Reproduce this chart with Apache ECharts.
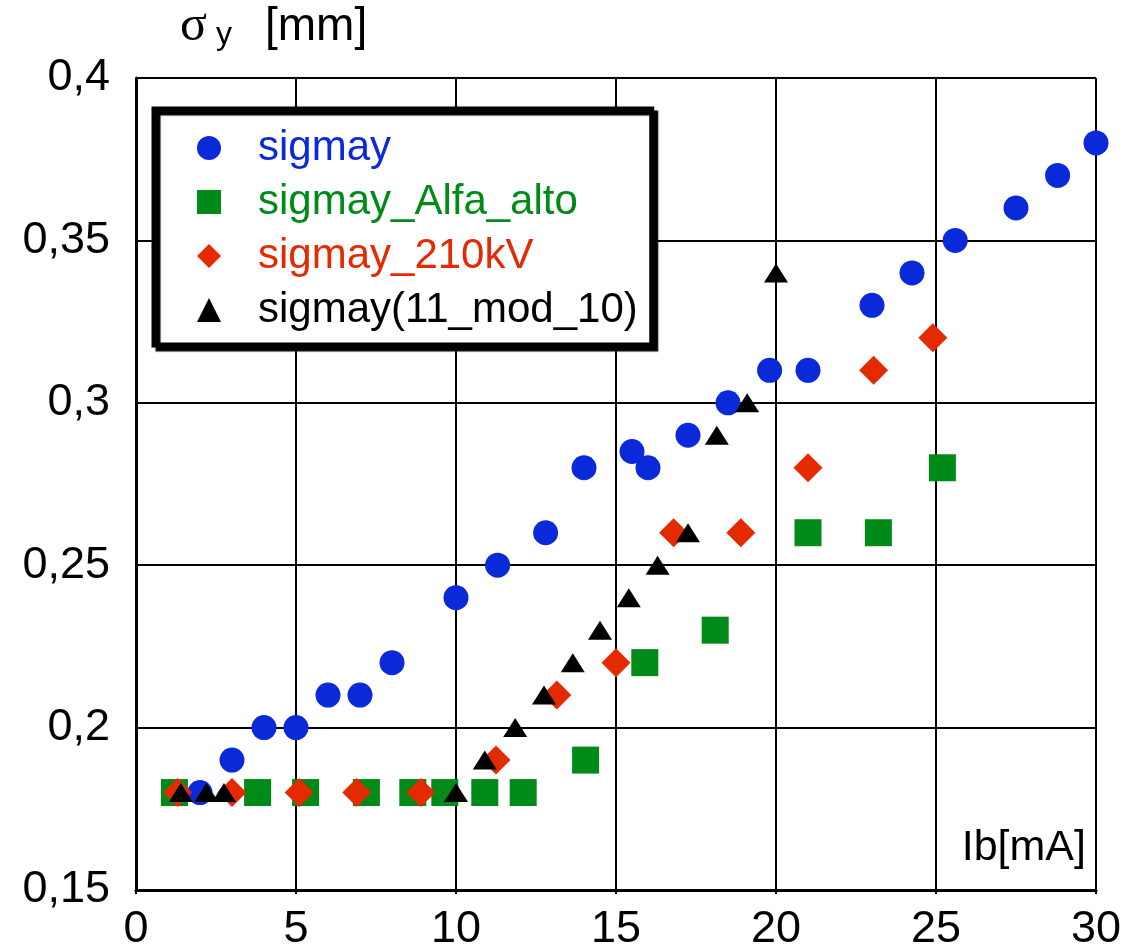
<!DOCTYPE html>
<html>
<head>
<meta charset="utf-8">
<script src="https://cdn.jsdelivr.net/npm/echarts@6/dist/echarts.min.js"></script>
<style>
html,body{margin:0;padding:0;background:#fff;}
#c{width:1126px;height:952px;}
</style>
</head>
<body>
<div id="c"></div>
<script>
// ---- data ----
const seriesNames = ['sigmay', 'sigmay_Alfa_alto', 'sigmay_210kV', 'sigmay(11_mod_10)'];
const sigmayX = [1.2, 2.0, 3.0, 4.0, 5.0, 6.0, 7.0, 8.0, 10.0, 11.3, 12.8, 14.0, 15.5, 16.0, 17.25, 18.5, 19.8, 21.0, 23.0, 24.25, 25.6, 27.5, 28.8, 30.0];
const sigmayY = [0.18, 0.18, 0.19, 0.2, 0.2, 0.21, 0.21, 0.22, 0.24, 0.25, 0.26, 0.28, 0.285, 0.28, 0.29, 0.30, 0.31, 0.31, 0.33, 0.34, 0.35, 0.36, 0.37, 0.38];
const alfaX = [1.2, 3.8, 5.3, 7.2, 8.65, 9.65, 10.9, 12.1, 14.05, 15.9, 18.1, 21.0, 23.2, 25.2];
const alfaY = [0.18, 0.18, 0.18, 0.18, 0.18, 0.18, 0.18, 0.18, 0.19, 0.22, 0.23, 0.26, 0.26, 0.28];
const kv210X = [1.3, 3.0, 5.1, 6.9, 8.9, 11.25, 13.15, 15.0, 16.8, 18.9, 21.0, 23.05, 24.9];
const kv210Y = [0.18, 0.18, 0.18, 0.18, 0.18, 0.19, 0.21, 0.22, 0.26, 0.26, 0.28, 0.31, 0.32];
const modX = [1.4, 2.2, 2.75, 10.0, 10.9, 11.85, 12.75, 13.65, 14.5, 15.4, 16.3, 17.25, 18.15, 19.1, 20.0];
const modY = [0.18, 0.18, 0.18, 0.18, 0.19, 0.20, 0.21, 0.22, 0.23, 0.24, 0.25, 0.26, 0.29, 0.30, 0.34];
const xTickLabels = ['0', '5', '10', '15', '20', '25', '30'];
const yTickLabels = ['0,15', '0,2', '0,25', '0,3', '0,35', '0,4'];

const colors = ['#0a2ad9', '#008a18', '#e42a00', '#000000'];
const symbols = ['circle', 'rect', 'diamond', 'triangle'];
const symbolSizes = [25, 27, 29, [24, 19]];
const FONT = 'Liberation Sans, Arial, sans-serif';
const SERIF = 'Liberation Serif, DejaVu Serif, serif';

function pairs(xs, ys) { return xs.map((x, i) => [x, ys[i]]); }
const dataSets = [pairs(sigmayX, sigmayY), pairs(alfaX, alfaY), pairs(kv210X, kv210Y), pairs(modX, modY)];

const chart = echarts.init(document.getElementById('c'), null, {renderer: 'canvas'});
const option = {
  animation: false,
  backgroundColor: '#fff',
  grid: {left: 136, right: 30, top: 78, bottom: 60, containLabel: false},
  xAxis: {
    type: 'value', min: 0, max: 30, interval: 5,
    axisLine: {show: true, onZero: false, lineStyle: {color: '#000', width: 3}},
    axisTick: {show: true, inside: false, length: 4, lineStyle: {color: '#000', width: 2}},
    splitLine: {show: true, lineStyle: {color: '#000', width: 2}},
    axisLabel: {
      margin: 17, color: '#000', fontSize: 45, fontFamily: FONT,
      formatter: (v) => xTickLabels[Math.round(v / 5)]
    }
  },
  yAxis: {
    type: 'value', min: 0.15, max: 0.4, interval: 0.05,
    axisLine: {show: true, onZero: false, lineStyle: {color: '#000', width: 3}},
    axisTick: {show: false},
    splitLine: {show: true, lineStyle: {color: '#000', width: 2}},
    axisLabel: {
      margin: 26, color: '#000', fontSize: 45, fontFamily: FONT,
      formatter: (v) => yTickLabels[Math.round((v - 0.15) / 0.05)]
    }
  },
  legend: {
    orient: 'vertical',
    left: 154, top: 109,
    itemWidth: 24, itemHeight: 24, itemGap: 10,
    padding: [17, 14, 13, 43],
    backgroundColor: '#fff',
    borderColor: '#000', borderWidth: 5,
    shadowColor: '#000', shadowBlur: 1, shadowOffsetX: 4, shadowOffsetY: 4,
    textStyle: {fontSize: 42, fontFamily: FONT, lineHeight: 44, padding: [0, 0, 0, 32]},
    data: seriesNames.map((n, i) => ({name: n, icon: symbols[i], textStyle: {color: colors[i]}}))
  },
  graphic: [
    {type: 'text', x: 180, y: 27, style: {text: 'σ', fontFamily: SERIF, fontSize: 50, fill: '#000', verticalAlign: 'middle'}},
    {type: 'text', x: 216, y: 35, style: {text: 'y', fontFamily: FONT, fontSize: 32, fill: '#000', verticalAlign: 'middle'}},
    {type: 'text', x: 265, y: 27, style: {text: '[mm]', fontFamily: FONT, fontSize: 46, fill: '#000', verticalAlign: 'middle'}},
    {type: 'text', x: 1086, y: 848, style: {text: 'Ib[mA]', fontFamily: FONT, fontSize: 43, fill: '#000', align: 'right', verticalAlign: 'middle'}}
  ],
  series: seriesNames.map((n, i) => ({
    name: n, type: 'scatter', symbol: symbols[i], symbolSize: symbolSizes[i],
    itemStyle: {color: colors[i], opacity: 1},
    data: dataSets[i], z: 2 + i
  }))
};
chart.setOption(option);
</script>
</body>
</html>
